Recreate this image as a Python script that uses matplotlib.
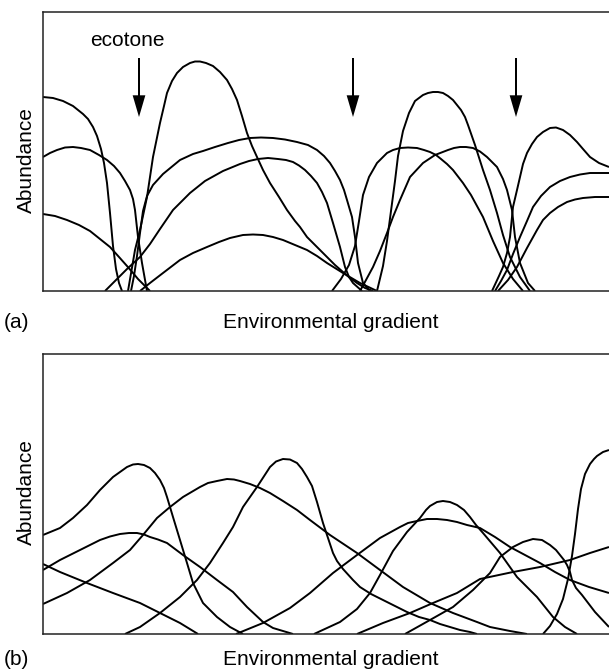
import matplotlib
matplotlib.use("Agg")
import matplotlib.pyplot as plt

plt.rcParams['font.family'] = ['Liberation Sans', 'DejaVu Sans']

# ---------------- data: panel (a) species response curves ----------------
# x = position along the environmental gradient, y = abundance (arbitrary units)
a1_x = [0, 10, 20, 30, 40, 45, 50, 54, 58, 61, 64, 67, 70, 73, 76, 79]
a1_y = [194, 193, 190, 185, 177, 172, 164, 155, 142, 128, 108, 78, 45, 22, 8, 0]
a2_x = [0, 7, 14, 22, 30, 38, 47, 56, 64, 71, 77, 82, 87, 90, 92, 95, 99, 104]
a2_y = [134, 138, 141, 143.5, 144, 143, 141, 136, 131, 125, 118, 110, 101, 92, 81, 54, 28, 0]
a3_x = [0, 12, 24, 36, 47, 57, 67, 76, 84, 90, 95, 103, 107]
a3_y = [77, 75, 71, 66, 60, 52, 44, 34, 25, 18, 12, 4, 0]
a4_x = [85, 92, 97, 104, 110, 117, 121, 124, 129, 134, 140, 147, 152, 157, 163, 170,
        177, 184, 189, 194, 199, 204, 209, 214, 220, 227, 236, 244, 252, 257, 264, 274,
        284, 292, 300, 307, 314, 322, 330]
a4_y = [0, 41, 61, 94, 134, 168, 185, 198, 210, 218, 224, 228, 229.5, 229.5, 228, 225,
        219, 211, 202, 191, 175, 158, 145, 134, 121, 108, 94, 81, 70, 64, 54, 44,
        34, 26, 19, 13, 8, 3, 0]
a5_x = [88, 91, 94, 97, 100, 104, 110, 120, 137, 150, 160, 172, 185, 196, 207, 218,
        230, 242, 254, 265, 274, 281, 287, 292, 297, 301, 304, 309, 312, 315, 320, 327]
a5_y = [0, 15, 35, 58, 80, 95, 106, 117, 131, 137, 140, 144, 148, 151, 153, 153.5,
        153, 151.5, 149, 146, 141, 135, 128, 120, 111, 101, 91, 74, 54, 28, 8, 0]
a6_x = [62, 72, 84, 97, 107, 117, 130, 147, 162, 180, 197, 206, 215, 225, 235, 243,
        250, 256, 262, 268, 274, 279, 284, 290, 297, 302, 306, 310, 319]
a6_y = [0, 10, 22, 34, 47, 62, 81, 98, 110, 120, 127, 130, 132, 133, 132, 131,
        129, 125.5, 121, 115, 108, 99, 88, 68, 44, 24, 14, 8, 0]
a7_x = [97, 107, 120, 137, 150, 164, 176, 187, 200, 210, 220, 230, 240, 252, 264,
        274, 284, 300, 317, 334]
a7_y = [0, 8, 18, 31, 38, 44, 49, 53, 56, 56.5, 56, 54, 51, 46, 41, 35, 28, 18, 8, 0]
b1_x = [289, 298, 306, 312, 316, 320, 326, 334, 344, 350, 357, 365, 374, 381, 387,
        393, 398, 404, 410, 420, 428, 440, 450, 460, 470, 480]
b1_y = [0, 12, 26, 45, 70, 96, 114, 128, 138, 141, 143, 143.5, 143, 141, 139,
        136, 132, 127, 121, 108, 96, 74, 50, 28, 12, 0]
b2_x = [334, 340, 344, 348, 352, 355, 360, 366, 372, 380, 385, 390, 395, 400, 405,
        410, 414, 418, 422, 425, 432, 440, 447, 454, 460, 467, 477, 487]
b2_y = [0, 25, 50, 80, 110, 135, 160, 178, 190, 196, 198, 199, 199, 198, 195,
        191, 186, 181, 174, 166, 146, 121, 101, 78, 56, 34, 14, 0]
b3_x = [317, 323, 330, 337, 344, 350, 357, 367, 380, 392, 405, 411, 417, 423, 430,
        437, 444, 454, 460, 464, 469, 472, 477, 485, 492]
b3_y = [0, 11, 24, 40, 58, 74, 91, 114, 128, 136, 141, 143, 144, 144, 143,
        139.5, 134, 124, 112, 101, 81, 54, 28, 8, 0]
c1_x = [449, 456, 460, 464, 467, 470, 474, 477, 480, 484, 489, 494, 500, 507, 513,
        520, 527, 534, 540, 547, 556, 566]
c1_y = [0, 15, 24, 38, 54, 84, 101, 114, 127, 138, 147, 154, 159, 163, 163.5,
        161, 156, 149, 142, 134, 128, 124]
c2_x = [452, 458, 464, 470, 477, 484, 490, 498, 507, 517, 527, 537, 547, 556, 566]
c2_y = [0, 10, 21, 37, 54, 70, 84, 95, 104, 110, 114, 116.5, 118, 118, 118]
c3_x = [455, 465, 474, 484, 494, 500, 507, 515, 524, 532, 540, 552, 566]
c3_y = [0, 11, 24, 43, 61, 71, 78, 84, 89, 91.5, 93, 94, 94]

panel_a = [(a1_x, a1_y), (a2_x, a2_y), (a3_x, a3_y), (a4_x, a4_y), (a5_x, a5_y),
           (a6_x, a6_y), (a7_x, a7_y), (b1_x, b1_y), (b2_x, b2_y), (b3_x, b3_y),
           (c1_x, c1_y), (c2_x, c2_y), (c3_x, c3_y)]

ecotone_x = [96, 310, 473]

# ---------------- data: panel (b) species response curves ----------------
d1_x = [0, 17, 30, 44, 57, 70, 77, 84, 90, 95, 101, 107, 112, 117, 121, 124, 130,
        137, 144, 150, 160, 174, 187, 200]
d1_y = [99, 106, 116, 129, 144, 157, 162, 167, 169.5, 170, 169, 166, 161, 154, 146,
        137, 117, 94, 71, 51, 31, 17, 7, 0]
d2_x = [0, 17, 37, 57, 67, 77, 86, 94, 101, 107, 115, 124, 140, 157, 174, 190, 204,
        220, 230, 240, 250]
d2_y = [64, 74, 84, 94, 97.5, 100, 101, 101, 99.5, 97, 94.5, 91, 79, 67, 54, 42, 27,
        12, 6, 3, 0]
d3_x = [0, 17, 44, 70, 97, 117, 137, 155]
d3_y = [70, 62, 51, 41, 31, 21, 11, 0]
d4_x = [0, 24, 47, 70, 87, 100, 114, 127, 140, 157, 165, 174, 184, 191, 197, 207,
        217, 227, 240, 254, 267, 287, 314, 337, 360, 387, 410, 434, 447, 467, 484]
d4_y = [30, 41, 54, 71, 84, 99, 116, 127, 137, 147, 151, 153, 155, 154.5, 153, 150,
        146, 141, 133, 124, 114, 99, 81, 64, 47, 31, 21, 12, 7, 3, 0]
d5_x = [82, 97, 117, 137, 154, 167, 180, 190, 200, 214, 227, 233, 240, 247, 254, 259,
        264, 269, 274, 280, 284, 287, 290, 294, 300, 310, 317, 328, 340, 352, 364, 376,
        387, 397, 407, 417, 427, 434]
d5_y = [0, 7, 21, 37, 54, 71, 91, 107, 127, 147, 167, 172.5, 175, 174.5, 171, 165,
        157, 148, 132, 111, 99, 90, 81, 73, 65, 54, 47, 40, 34, 28, 22, 17,
        14, 10, 7, 4, 2, 0]
d6_x = [193, 220, 247, 267, 290, 314, 337, 357, 365, 374, 384, 394, 404, 414, 424,
        437, 452, 467, 482, 497, 512, 527, 546, 566]
d6_y = [0, 11, 26, 41, 61, 79, 96, 107, 111, 113, 115, 115, 114, 112, 109,
        106, 97, 87, 79, 71, 62, 54, 47, 41]
d7_x = [271, 297, 314, 327, 337, 350, 364, 377, 383, 387, 394, 400, 407, 414, 421,
        427, 433, 440, 457, 474, 494, 510, 522, 534]
d7_y = [0, 12, 25, 41, 59, 83, 102, 116, 124, 128, 132, 133, 132, 129, 124,
        117, 109, 101, 81, 57, 37, 17, 7, 0]
d8_x = [362, 387, 410, 430, 447, 457, 470, 480, 490, 499, 507, 513, 517, 521, 524,
        527, 529, 533, 539, 552, 566]
d8_y = [0, 14, 27, 44, 61, 77, 87, 92, 95, 94, 89, 84, 79, 74, 69,
        62, 54, 46, 39, 22, 7]
d9_x = [314, 340, 367, 390, 414, 437, 470, 497, 527, 547, 566]
d9_y = [0, 11, 21, 31, 41, 55, 62, 67, 74, 81, 87]
d10_x = [500, 507, 514, 520, 525, 529, 532, 535, 538, 542, 547, 551, 554, 560, 566]
d10_y = [0, 8, 20, 35, 55, 78, 100, 125, 145, 160, 170, 175, 178, 182, 184]

panel_b = [(d1_x, d1_y), (d2_x, d2_y), (d3_x, d3_y), (d4_x, d4_y), (d5_x, d5_y),
           (d6_x, d6_y), (d7_x, d7_y), (d8_x, d8_y), (d9_x, d9_y), (d10_x, d10_y)]

# ---------------- figure ----------------
W, H = 609, 670
fig = plt.figure(figsize=(W / 100, H / 100), dpi=100)


def px_axes(left, top, right, bottom):
    return fig.add_axes([left / W, 1 - bottom / H, (right - left) / W, (bottom - top) / H])


ax_a = px_axes(43, 12, 609, 291)
ax_b = px_axes(43, 354, 609, 634)

for ax, curves, ytop in ((ax_a, panel_a, 279), (ax_b, panel_b, 280)):
    for xs, ys in curves:
        ax.plot(xs, ys, color='black', lw=1.4, solid_joinstyle='round',
                solid_capstyle='butt')
    ax.set_xlim(0, 566)
    ax.set_ylim(0, ytop)
    ax.set_xticks([])
    ax.set_yticks([])
    for s in ('left', 'top', 'bottom'):
        ax.spines[s].set_linewidth(1.1)
        ax.spines[s].set_color('#222222')
    ax.spines['right'].set_visible(False)

# ecotone arrows
for ex in ecotone_x:
    ax_a.arrow(ex, 233, 0, -59, width=2.0, head_width=12.7, head_length=21.7,
               length_includes_head=True, color='black', lw=0)


def ftext(x, y, s, **kw):
    fig.text(x / W, 1 - y / H, s, fontsize=15, color='black', **kw)


ftext(127.5, 46, 'ecotone', ha='center', va='baseline')
ftext(331, 328, 'Environmental gradient', ha='center', va='baseline')
ftext(331, 665, 'Environmental gradient', ha='center', va='baseline')
ftext(4, 328, '(a)', ha='left', va='baseline')
ftext(4, 665, '(b)', ha='left', va='baseline')
ftext(26, 160, 'Abundance', ha='center', va='center', rotation=90)
ftext(26, 492, 'Abundance', ha='center', va='center', rotation=90)

fig.savefig('out.png', dpi=100)
